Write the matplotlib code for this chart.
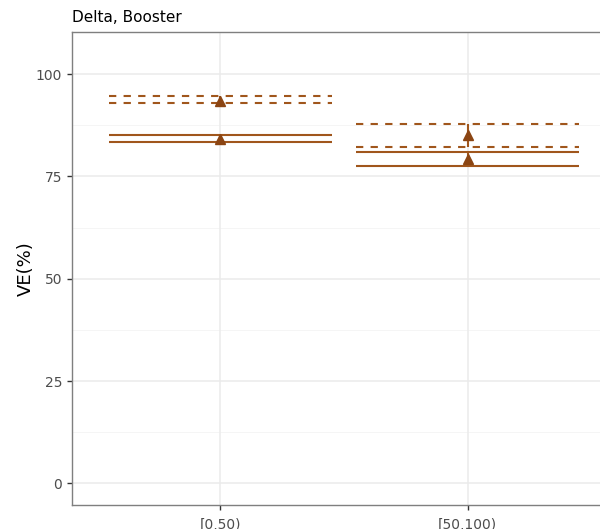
import matplotlib
matplotlib.use("Agg")
import matplotlib.pyplot as plt
import numpy as np

# VE estimates by age group, with lower/upper bounds
groups = ["[0,50)", "[50,100)"]
ve_dashed = [93.5, 85.1]
lo_dashed = [92.9, 82.3]
hi_dashed = [94.6, 87.7]
ve_solid = [84.2, 79.2]
lo_solid = [83.4, 77.6]
hi_solid = [85.1, 80.9]

col = "#A0561C"
half = 0.45

fig = plt.figure(figsize=(6.0, 5.29), dpi=100)
ax = fig.add_axes([0.12, 0.0454, 0.907, 0.894])

x = np.arange(1, len(groups) + 1)

# grid (theme_bw look)
for v in [12.5, 37.5, 62.5, 87.5]:
    ax.axhline(v, color="#F4F4F4", lw=0.6, zorder=0)
for v in [0, 25, 50, 75, 100]:
    ax.axhline(v, color="#EBEBEB", lw=1.1, zorder=0)
for xi in x:
    ax.axvline(xi, color="#EBEBEB", lw=1.1, zorder=0)

for xi, lo, hi in zip(x, lo_dashed, hi_dashed):
    ax.hlines([lo, hi], xi - half, xi + half, colors=col, lw=1.5,
              linestyles=(0, (3.5, 3.5)), zorder=2)
for xi, lo, hi in zip(x, lo_solid, hi_solid):
    ax.hlines([lo, hi], xi - half, xi + half, colors=col, lw=1.5, zorder=2)

ax.vlines(x, lo_dashed, hi_dashed, colors=col, lw=1.5, zorder=3)
ax.vlines(x, lo_solid, hi_solid, colors=col, lw=1.5, zorder=3)
ax.plot(x, ve_dashed, "^", color="#8B4513", ms=6.5, zorder=4)
ax.plot(x, ve_solid, "^", color="#8B4513", ms=6.5, zorder=4)

ax.set_xlim(0.4, 2.6)
ax.set_ylim(-5.25, 110.25)
ax.set_xticks(x)
ax.set_xticklabels(groups)
ax.set_yticks([0, 25, 50, 75, 100])
ax.tick_params(colors="#333333", labelcolor="#4D4D4D", labelsize=10,
               length=3.5, width=1)
ax.tick_params(axis="x", pad=6)
for s in ax.spines.values():
    s.set_color("#7F7F7F")
    s.set_linewidth(1.0)

ax.set_ylabel("VE(%)", fontsize=13, color="black", labelpad=1)
ax.set_title("Delta, Booster", loc="left", fontsize=11, pad=7)

fig.savefig("out.png", dpi=100)
